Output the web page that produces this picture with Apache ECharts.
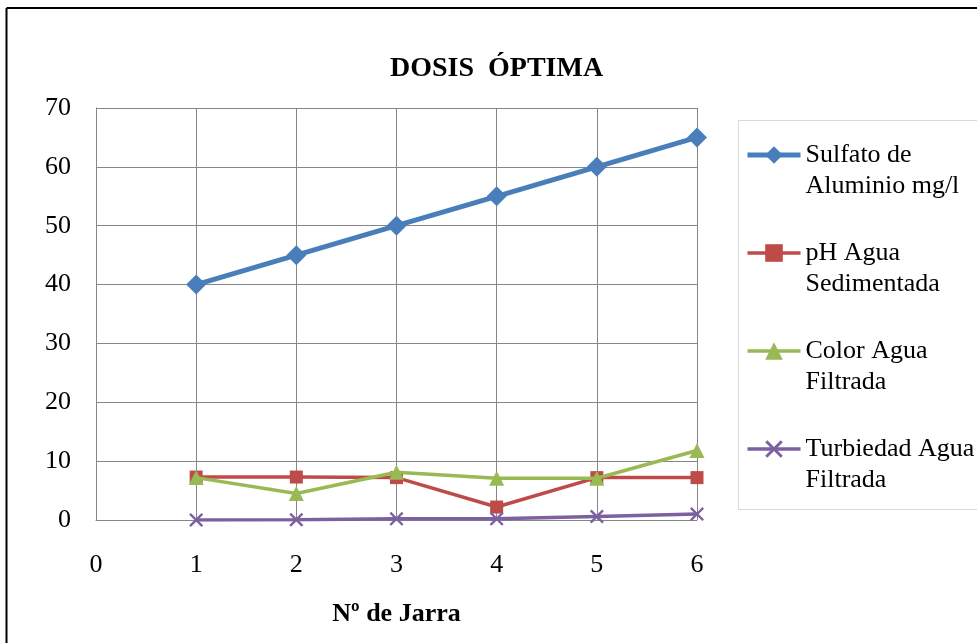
<!DOCTYPE html>
<html><head><meta charset="utf-8">
<script src="https://cdn.jsdelivr.net/npm/echarts@6/dist/echarts.min.js"></script>
<style>html,body{margin:0;padding:0;background:#fff}#c{width:977px;height:643px}</style>
</head><body><div id="c"></div>
<script>
const jarras = [1, 2, 3, 4, 5, 6];
const sulfato = [40, 45, 50, 55, 60, 65];
const phSedimentada = [7.3, 7.3, 7.2, 2.2, 7.2, 7.2];
const colorFiltrada = [7.2, 4.5, 8.1, 7.1, 7.1, 11.8];
const turbiedadFiltrada = [0.0, 0.05, 0.2, 0.2, 0.6, 1.0];
const seriesNames = ['Sulfato de\nAluminio mg/l', 'pH Agua\nSedimentada', 'Color Agua\nFiltrada', 'Turbiedad Agua\nFiltrada'];
const chartTitle = 'DOSIS  ÓPTIMA';
const xAxisTitle = 'Nº de Jarra';

const pairs = (vals) => jarras.map((x, i) => [x, vals[i]]);
const FONT = '"Liberation Serif", "Times New Roman", serif';
const xSym = 'path://M0,1.2L1.2,0L5,3.8L8.8,0L10,1.2L6.2,5L10,8.8L8.8,10L5,6.2L1.2,10L0,8.8L3.8,5Z';

const chart = echarts.init(document.getElementById('c'), null, {renderer: 'canvas'});
chart.setOption({
  animation: false,
  backgroundColor: '#fff',
  title: {
    text: chartTitle, left: 390, top: 55, padding: 0,
    textStyle: {fontFamily: FONT, fontSize: 28, fontWeight: 'bold', color: '#000'}
  },
  graphic: [
    {type: 'line', shape: {x1: 6.5, y1: 8, x2: 980, y2: 8}, style: {stroke: '#000', lineWidth: 2}, z: 0},
    {type: 'line', shape: {x1: 6.5, y1: 8, x2: 6.5, y2: 650}, style: {stroke: '#000', lineWidth: 2}, z: 0},
    {type: 'rect', shape: {x: 738.5, y: 120.5, width: 260, height: 389}, style: {fill: '#fff', stroke: '#d9d9d9', lineWidth: 1}, z: 0}
  ],
  grid: {left: 96, right: 280, top: 108, bottom: 123},
  legend: {
    orient: 'vertical', left: 745, top: 108.5, padding: 0,
    itemWidth: 53, itemHeight: 22, itemGap: 5,
    data: seriesNames,
    formatter: (name) => '\n' + name,
    lineStyle: {width: 'inherit'},
    textStyle: {fontFamily: FONT, fontSize: 26, lineHeight: 31, color: '#000'}
  },
  xAxis: {
    type: 'value', min: 0, max: 6, interval: 1,
    axisLine: {show: true, lineStyle: {color: '#868686', width: 1}},
    axisTick: {show: false},
    splitLine: {show: true, lineStyle: {color: '#868686', width: 1}},
    axisLabel: {fontFamily: FONT, fontSize: 26, color: '#000', margin: 32},
    name: xAxisTitle, nameLocation: 'middle', nameGap: 81,
    nameTextStyle: {fontFamily: FONT, fontSize: 26, fontWeight: 'bold', color: '#000'}
  },
  yAxis: {
    type: 'value', min: 0, max: 70, interval: 10,
    axisLine: {show: true, lineStyle: {color: '#868686', width: 1}},
    axisTick: {show: false},
    splitLine: {show: true, lineStyle: {color: '#868686', width: 1}},
    axisLabel: {fontFamily: FONT, fontSize: 26, color: '#000', margin: 25}
  },
  series: [
    {name: seriesNames[0], type: 'line', data: pairs(sulfato), symbol: 'diamond', symbolSize: 20,
      lineStyle: {color: '#4a7ebb', width: 5}, itemStyle: {color: '#4a7ebb'}, z: 5},
    {name: seriesNames[1], type: 'line', data: pairs(phSedimentada), symbol: 'rect', symbolSize: 13,
      lineStyle: {color: '#be4b48', width: 3.5}, itemStyle: {color: '#be4b48'}, z: 3},
    {name: seriesNames[2], type: 'line', data: pairs(colorFiltrada), symbol: 'triangle', symbolSize: 15,
      lineStyle: {color: '#98b954', width: 3.5}, itemStyle: {color: '#98b954'}, z: 4},
    {name: seriesNames[3], type: 'line', data: pairs(turbiedadFiltrada), symbol: xSym, symbolSize: 14,
      lineStyle: {color: '#7d60a0', width: 3.5}, itemStyle: {color: '#7d60a0'}, z: 4}
  ]
});
</script>
</body></html>
